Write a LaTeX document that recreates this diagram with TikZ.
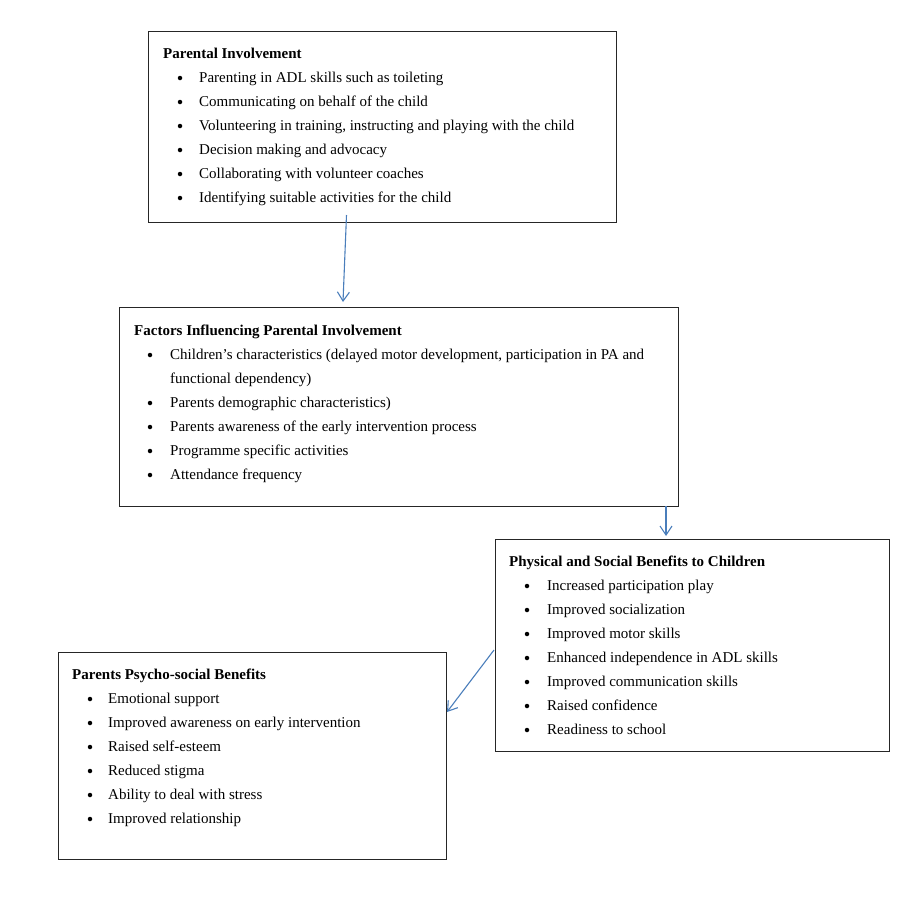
\documentclass[tikz,border=0pt]{standalone}
\usepackage{fontspec}
\setmainfont{Liberation Serif}
\usetikzlibrary{arrows.meta}
\definecolor{arrblue}{HTML}{4A7EBB}
\begin{document}
\begin{tikzpicture}[x=1pt,y=-1pt,
  box/.style={draw=black!85, line width=0.9pt, inner sep=0pt, outer sep=0pt},
  txt/.style={anchor=base west, inner sep=0pt, font=\fontsize{15}{17}\selectfont},
  head/.style={txt, font=\fontsize{15}{17}\selectfont\bfseries},
  bul/.style={circle, fill=black, inner sep=0pt, minimum size=4.5pt},
  arr/.style={draw=arrblue, line width=1.1pt, -{Straight Barb[length=9pt,width=12pt]}}]
\useasboundingbox (0,0) rectangle (923,897);
\fill[white] (0,0) rectangle (923,897);
% boxes
\node[box, minimum width=468pt, minimum height=191pt] (b1) at (382,126.5) {};
\node[box, minimum width=559pt, minimum height=199pt] (b2) at (398.5,406.5) {};
\node[box, minimum width=394pt, minimum height=212pt] (b3) at (692,645) {};
\node[box, minimum width=388pt, minimum height=207pt] (b4) at (252,755.5) {};
% box 1
\node[head] (h1) at (163,58.5) {Parental Involvement};
\foreach \y/\t [count=\i] in {78/Parenting in ADL skills such as toileting,
  102/Communicating on behalf of the child,
  126/{Volunteering in training, instructing and playing with the child},
  150/Decision making and advocacy,
  174/Collaborating with volunteer coaches,
  198/Identifying suitable activities for the child}{
  \node[bul] (p1b\i) at (180,\y) {};
  \node[txt] (p1t\i) at (199,\y+4.5) {\t};
}
% box 2
\node[head] (h2) at (134,335.5) {Factors Influencing Parental Involvement};
\foreach \y/\t [count=\i] in {355/{Children’s characteristics (delayed motor development, participation in PA and},
  403/Parents demographic characteristics),
  427/Parents awareness of the early intervention process,
  451/Programme specific activities,
  475/Attendance frequency}{
  \node[bul] (p2b\i) at (150,\y) {};
  \node[txt] (p2t\i) at (170,\y+4.5) {\t};
}
\node[txt] (p2c) at (170,383.5) {functional dependency)};
% box 3
\node[head] (h3) at (509,566.5) {Physical and Social Benefits to Children};
\foreach \y/\t [count=\i] in {586/Increased participation play,
  610/Improved socialization,
  634/Improved motor skills,
  658/Enhanced independence in ADL skills,
  682/Improved communication skills,
  706/Raised confidence,
  730/Readiness to school}{
  \node[bul] (p3b\i) at (527,\y) {};
  \node[txt] (p3t\i) at (547,\y+4.5) {\t};
}
% box 4
\node[head] (h4) at (72,679.5) {Parents Psycho-social Benefits};
\foreach \y/\t [count=\i] in {699/Emotional support,
  723/Improved awareness on early intervention,
  747/Raised self-esteem,
  771/Reduced stigma,
  795/Ability to deal with stress,
  819/Improved relationship}{
  \node[bul] (p4b\i) at (90,\y) {};
  \node[txt] (p4t\i) at (108,\y+4.5) {\t};
}
% connectors
\coordinate (a1s) at (346.5,215);
\coordinate (a1e) at (343,302);
\coordinate (a2s) at (666,506);
\coordinate (a2e) at (666,536);
\coordinate (a3s) at (494,650);
\coordinate (a3e) at (447,712);
\draw[arr] (a1s) -- (a1e);
\draw[arr] (a2s) -- (a2e);
\draw[arr] (a3s) -- (a3e);
\end{tikzpicture}
\end{document}
